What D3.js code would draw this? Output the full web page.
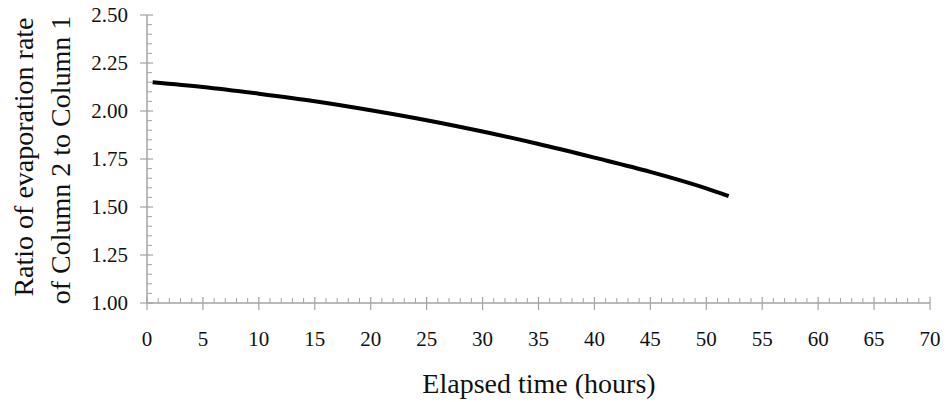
<!DOCTYPE html>
<html>
<head>
<meta charset="utf-8">
<script src="https://cdn.jsdelivr.net/npm/d3@7"></script>
<style>
  html, body { margin: 0; padding: 0; background: #fff; }
  svg { display: block; }
</style>
</head>
<body>
<svg id="chart" width="947" height="402"></svg>
<script>
// Data
const hours = [0.5, 5, 10, 15, 20, 25, 30, 35, 40, 45, 50, 52];
const ratio = [2.150, 2.125, 2.090, 2.051, 2.004, 1.952, 1.893, 1.828, 1.757, 1.683, 1.597, 1.557];
const xTicks = [0, 5, 10, 15, 20, 25, 30, 35, 40, 45, 50, 55, 60, 65, 70];
const yTicks = [1.00, 1.25, 1.50, 1.75, 2.00, 2.25, 2.50];
const xTitle = "Elapsed time (hours)";
const yTitleLines = ["Ratio of evaporation rate", "of Column 2 to Column 1"];

(function () {
const FONT = "'Liberation Serif', 'Times New Roman', 'DejaVu Serif', serif";
const svg = d3.select("#chart").attr("font-family", FONT);
const pL = 147, pR = 930, pT = 15, pB = 303;
const x = d3.scaleLinear().domain([0, 70]).range([pL, pR]);
const y = d3.scaleLinear().domain([1, 2.5]).range([pB, pT]);
const axisColor = "#a3a3a3";
const textColor = "#111";

// Minor ticks
const xMinor = d3.range(0, 71, 1).filter(v => v % 5 !== 0);
const yMinor = d3.range(100, 251, 5).map(v => v / 100).filter(v => Math.round(v * 100) % 25 !== 0);

const g = svg.append("g");
g.selectAll(".xminor").data(xMinor).join("line")
  .attr("x1", d => x(d)).attr("x2", d => x(d))
  .attr("y1", pB).attr("y2", pB - 5)
  .attr("stroke", axisColor).attr("stroke-width", 1);
g.selectAll(".yminor").data(yMinor).join("line")
  .attr("x1", pL).attr("x2", pL + 5)
  .attr("y1", d => y(d)).attr("y2", d => y(d))
  .attr("stroke", axisColor).attr("stroke-width", 1);

// Major ticks
g.selectAll(".xmajor").data(xTicks).join("line")
  .attr("x1", d => x(d)).attr("x2", d => x(d))
  .attr("y1", pB - 6).attr("y2", pB + 7)
  .attr("stroke", axisColor).attr("stroke-width", 1.2);
g.selectAll(".ymajor").data(yTicks).join("line")
  .attr("x1", pL - 7).attr("x2", pL + 6)
  .attr("y1", d => y(d)).attr("y2", d => y(d))
  .attr("stroke", axisColor).attr("stroke-width", 1.2);

// Axis lines
g.append("line").attr("x1", pL).attr("x2", pR).attr("y1", pB).attr("y2", pB)
  .attr("stroke", axisColor).attr("stroke-width", 1.5);
g.append("line").attr("x1", pL).attr("x2", pL).attr("y1", pT).attr("y2", pB)
  .attr("stroke", axisColor).attr("stroke-width", 1.5);

// Tick labels
g.selectAll(".xlab").data(xTicks).join("text")
  .attr("x", d => x(d)).attr("y", 346)
  .attr("text-anchor", "middle").attr("font-size", 21)
  .attr("font-family", FONT).attr("fill", textColor)
  .text(d => d);
g.selectAll(".ylab").data(yTicks).join("text")
  .attr("x", 128).attr("y", d => y(d) + 7)
  .attr("text-anchor", "end").attr("font-size", 21)
  .attr("font-family", FONT).attr("fill", textColor)
  .text(d => d.toFixed(2));

// Titles
svg.append("text").attr("x", 539).attr("y", 393)
  .attr("text-anchor", "middle").attr("font-size", 28)
  .attr("font-family", FONT).attr("fill", textColor).text(xTitle);
const yt = [[33, 157], [70, 160]];
yTitleLines.forEach((t, i) => {
  svg.append("text")
    .attr("transform", `translate(${yt[i][0]},${yt[i][1]}) rotate(-90)`)
    .attr("text-anchor", "middle").attr("font-size", 28)
    .attr("font-family", FONT).attr("fill", textColor).text(t);
});

// Line
const line = d3.line().x((d, i) => x(hours[i])).y(d => y(d)).curve(d3.curveMonotoneX);
svg.append("path").datum(ratio)
  .attr("d", line).attr("fill", "none")
  .attr("stroke", "#000").attr("stroke-width", 4);
})();
</script>
</body>
</html>
